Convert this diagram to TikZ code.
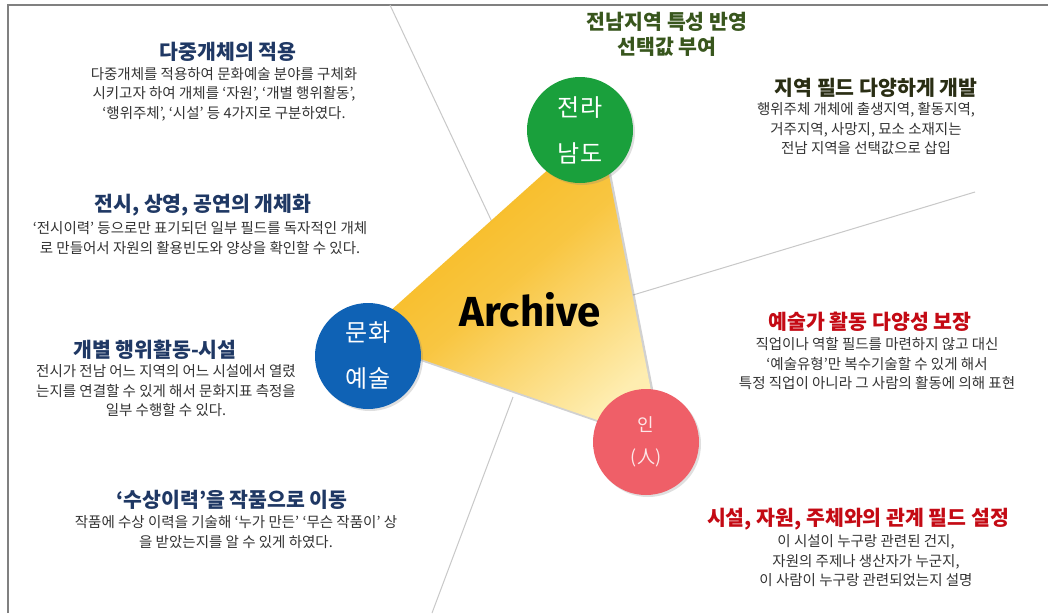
\documentclass[tikz,border=0pt]{standalone}
\usepackage{fontspec}
\setmainfont{Noto Sans CJK KR}
\newfontfamily\archfont{Fira Sans}
\usetikzlibrary{shadows}
\definecolor{navy}{HTML}{1F3864}
\definecolor{ttgreen}{HTML}{38561D}
\definecolor{ttolive}{HTML}{2A2E14}
\definecolor{ttred}{HTML}{C40A14}
\definecolor{bodygray}{HTML}{333333}
\definecolor{guide}{HTML}{C8C8C8}
\definecolor{frame}{HTML}{808080}
\definecolor{cgreen}{HTML}{1AA03C}
\definecolor{cblue}{HTML}{0F62B5}
\definecolor{cred}{HTML}{EF5F68}
\definecolor{triDark}{HTML}{F6B512}
\definecolor{triLight}{HTML}{FEEDB0}
\tikzset{
  ttl/.style={inner sep=0pt, align=center, font=\fontsize{20.5}{24}\selectfont\bfseries},
  bodytxt/.style={inner sep=0pt, align=center, text=bodygray, font=\fontsize{14.5}{19.5}\selectfont},
  circ/.style={circle, minimum size=106pt, inner sep=0pt, text=white, align=center,
    font=\fontsize{24}{46}\selectfont, drop shadow={opacity=0.25, shadow xshift=2pt, shadow yshift=-2pt}},
  guideline/.style={draw=guide, line width=1pt}
}
\begin{document}
\begin{tikzpicture}[x=1pt,y=-1pt]
\useasboundingbox (0,0) rectangle (1048,613);
\fill[white] (0,0) rectangle (1048,613);
% frame
\coordinate (fb) at (8,613); \coordinate (fc) at (8,5); \coordinate (fr) at (1048,5);
\draw[frame, line width=1.2pt] (fb) -- (fc) -- (fr);
% guide lines
\coordinate (g1a) at (390,5);   \coordinate (g1b) at (492,222);
\coordinate (g2a) at (633,295); \coordinate (g2b) at (975,192);
\coordinate (g3a) at (513,397); \coordinate (g3b) at (432,613);
\draw[guideline] (g1a) -- (g1b);
\draw[guideline] (g2a) -- (g2b);
\draw[guideline] (g3a) -- (g3b);
% triangle
\coordinate (T) at (599,124); \coordinate (L) at (360,338); \coordinate (R) at (661,442);
\fill[black, opacity=0.18] ([shift={(3,3)}]T) -- ([shift={(3,3)}]L) -- ([shift={(3,3)}]R) -- cycle;
\shade[top color=triDark, bottom color=triLight, middle color=triDark!70!triLight, shading angle=40] (T) -- (L) -- (R) -- cycle;
\node[inner sep=0pt, font=\archfont\fontsize{42}{48}\selectfont\bfseries] (arch) at (530,310) {Archive};
% circles
\node[circ, fill=cgreen] (jn) at (580,130) {전라\\남도};
\node[circ, fill=cblue] (mh) at (368,356) {문화\\예술};
\node[circ, fill=cred, text=white!85!cred, font=\fontsize{18}{32}\selectfont] (in) at (646,442) {인\\(人)};
% left blocks
\node[ttl, text=navy] (t1) at (228,52) {다중개체의 적용};
\node[bodytxt] (b1) at (224,94) {다중개체를 적용하여 문화예술 분야를 구체화\\시키고자 하여 개체를 ‘자원’, ‘개별 행위활동’,\\‘행위주체’, ‘시설’ 등 4가지로 구분하였다.};
\node[ttl, text=navy] (t2) at (203,205) {전시, 상영, 공연의 개체화};
\node[bodytxt] (b2) at (200,238) {‘전시이력’ 등으로만 표기되던 일부 필드를 독자적인 개체\\로 만들어서 자원의 활용빈도와 양상을 확인할 수 있다.};
\node[ttl, text=navy] (t3) at (155,350) {개별 행위활동-시설};
\node[bodytxt] (b3) at (166,391) {전시가 전남 어느 지역의 어느 시설에서 열렸\\는지를 연결할 수 있게 해서 문화지표 측정을\\일부 수행할 수 있다.};
\node[ttl, text=navy] (t4) at (232,500) {‘수상이력’을 작품으로 이동};
\node[bodytxt] (b4) at (236,532) {작품에 수상 이력을 기술해 ‘누가 만든’ ‘무슨 작품이’ 상\\을 받았는지를 알 수 있게 하였다.};
% right blocks
\node[ttl, text=ttgreen, font=\fontsize{20.5}{25}\selectfont\bfseries] (t5) at (667,34) {전남지역 특성 반영\\선택값 부여};
\node[ttl, text=ttolive] (t6) at (876,88) {지역 필드 다양하게 개발};
\node[bodytxt] (b6) at (866,129) {행위주체 개체에 출생지역, 활동지역,\\거주지역, 사망지, 묘소 소재지는\\전남 지역을 선택값으로 삽입};
\node[ttl, text=ttred] (t7) at (870,322) {예술가 활동 다양성 보장};
\node[bodytxt] (b7) at (877,364) {직업이나 역할 필드를 마련하지 않고 대신\\‘예술유형’만 복수기술할 수 있게 해서\\특정 직업이 아니라 그 사람의 활동에 의해 표현};
\node[ttl, text=ttred] (t8) at (858,519) {시설, 자원, 주체와의 관계 필드 설정};
\node[bodytxt] (b8) at (866,561) {이 시설이 누구랑 관련된 건지,\\자원의 주제나 생산자가 누군지,\\이 사람이 누구랑 관련되었는지 설명};
\end{tikzpicture}
\end{document}
